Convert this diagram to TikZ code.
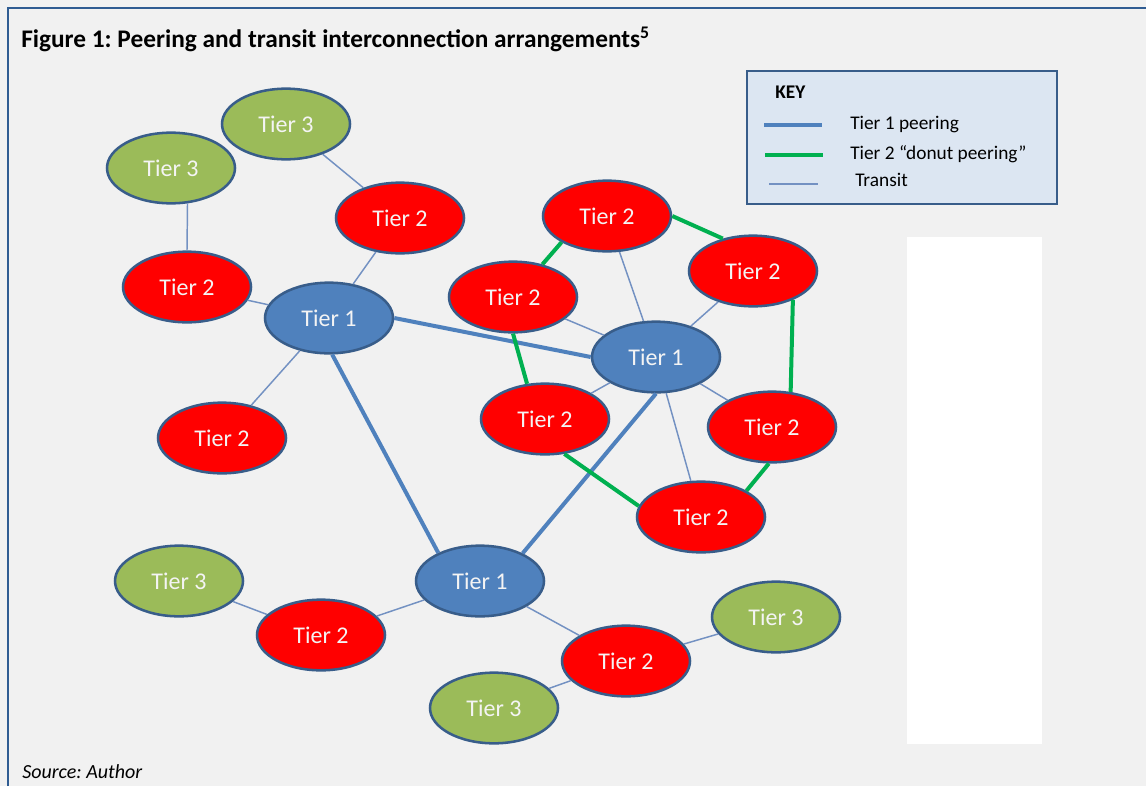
\documentclass[tikz,border=0pt]{standalone}
\usepackage{fontspec}
\setmainfont{Carlito}
\usetikzlibrary{shapes.geometric}
\definecolor{pagebg}{HTML}{F1F1F1}
\definecolor{framecol}{HTML}{2F5C92}
\definecolor{outline}{HTML}{385D8A}
\definecolor{tonefill}{HTML}{4F81BD}
\definecolor{tthreefill}{HTML}{9BBB59}
\definecolor{donutcol}{HTML}{00B050}
\definecolor{transitcol}{HTML}{7391C2}
\definecolor{keyfill}{HTML}{DCE6F2}
\definecolor{labelcol}{HTML}{F4F4F4}
\frenchspacing
\begin{document}
\begin{tikzpicture}[x=0.75pt,y=-0.75pt,
  tiernode/.style={ellipse,draw=outline,line width=1.9pt,inner sep=0pt,
    minimum width=96pt,minimum height=53pt,text=labelcol,
    font=\fontsize{18}{21}\selectfont},
  tierone/.style={tiernode,fill=tonefill},
  tiertwo/.style={tiernode,fill=red},
  tierthree/.style={tiernode,fill=tthreefill},
  peerline/.style={draw=tonefill,line width=3pt},
  donutline/.style={draw=donutcol,line width=3pt},
  transitline/.style={draw=transitcol,line width=1.1pt},
  keytext/.style={anchor=base west,font=\fontsize{14.5}{17}\selectfont}]

% page background and frame
\fill[pagebg] (0,0) rectangle (1146,786);
\useasboundingbox (0,0) rectangle (1146,786);
\draw[framecol,line width=2pt] (8,786) -- (8,8) -- (1146,8);

% title and source
\node[anchor=base west,inner sep=0pt,font=\bfseries\fontsize{19}{22}\selectfont] (title) at (21,47)
  {Figure 1: Peering and transit interconnection arrangements\textsuperscript{5}};
\node[anchor=base west,inner sep=0pt,font=\itshape\fontsize{15}{18}\selectfont] (source) at (22,778)
  {Source: Author};

% blank panel
\fill[white] (907,237) rectangle (1042,744);

% key
\node[draw=outline,fill=keyfill,line width=1.6pt,minimum width=232pt,minimum height=100pt,
  inner sep=0pt] (key) at (902,137.5) {};
\node[anchor=base west,inner sep=0pt,font=\bfseries\fontsize{14.5}{17}\selectfont] (keytitle) at (775,98) {KEY};
\coordinate (k1a) at (764,125); \coordinate (k1b) at (822,125);
\coordinate (k2a) at (765,155); \coordinate (k2b) at (823,155);
\coordinate (k3a) at (769,184); \coordinate (k3b) at (818,184);
\draw[peerline] (k1a) -- (k1b);
\draw[donutline] (k2a) -- (k2b);
\draw[transitline] (k3a) -- (k3b);
\node[keytext,inner sep=0pt] (kt1) at (850,129) {Tier 1 peering};
\node[keytext,inner sep=0pt] (kt2) at (850,159) {Tier 2 “donut peering”};
\node[keytext,inner sep=0pt] (kt3) at (855,186) {Transit};

% network nodes
\node[tierthree] (t3a) at (286,124) {Tier 3};
\node[tierthree] (t3b) at (171,168) {Tier 3};
\node[tiertwo]   (t2a) at (400,218) {Tier 2};
\node[tiertwo]   (t2b) at (187,287) {Tier 2};
\node[tierone]   (t1a) at (329,318) {Tier 1};
\node[tiertwo]   (t2c) at (222,438) {Tier 2};
\node[tiertwo]   (t2d) at (607,216) {Tier 2};
\node[tiertwo]   (t2e) at (753,271) {Tier 2};
\node[tiertwo]   (t2f) at (513,297) {Tier 2};
\node[tierone]   (t1b) at (656,357) {Tier 1};
\node[tiertwo]   (t2g) at (545,419) {Tier 2};
\node[tiertwo]   (t2h) at (772,427) {Tier 2};
\node[tiertwo]   (t2i) at (701,517) {Tier 2};
\node[tierone]   (t1c) at (480,581) {Tier 1};
\node[tierthree] (t3c) at (179,581) {Tier 3};
\node[tiertwo]   (t2j) at (321,635) {Tier 2};
\node[tiertwo]   (t2k) at (626,661) {Tier 2};
\node[tierthree] (t3d) at (776,617) {Tier 3};
\node[tierthree] (t3e) at (494,708) {Tier 3};

% tier 1 peering
\draw[peerline] (t1a.east) -- (t1b.west);
\draw[peerline] (t1a.-85) -- (t1c.146);
\draw[peerline] (t1b.south) -- (t1c.33);

% tier 2 donut peering
\draw[donutline] (t2d.0) -- (t2e.133);
\draw[donutline] (t2d.210) -- (t2f.48);
\draw[donutline] (t2e.-36) -- (t2h.62);
\draw[donutline] (t2f.south) -- (t2g.117);
\draw[donutline] (t2g.-61) -- (t2i.170);
\draw[donutline] (t2h.-95) -- (t2i.30);

% transit
\draw[transitline] (t3a) -- (t2a);
\draw[transitline] (t3b.-65) -- (t2b.north);
\draw[transitline] (t2a) -- (t1a);
\draw[transitline] (t2b) -- (t1a);
\draw[transitline] (t2c) -- (t1a);
\draw[transitline] (t2f) -- (t1b);
\draw[transitline] (t2d) -- (t1b);
\draw[transitline] (t2e) -- (t1b);
\draw[transitline] (t1b) -- (t2g);
\draw[transitline] (t1b) -- (t2h);
\draw[transitline] (t1b) -- (t2i);
\draw[transitline] (t1c) -- (t2j);
\draw[transitline] (t3c) -- (t2j);
\draw[transitline] (t1c) -- (t2k);
\draw[transitline] (t2k) -- (t3d);
\draw[transitline] (t2k) -- (t3e);
\end{tikzpicture}
\end{document}
